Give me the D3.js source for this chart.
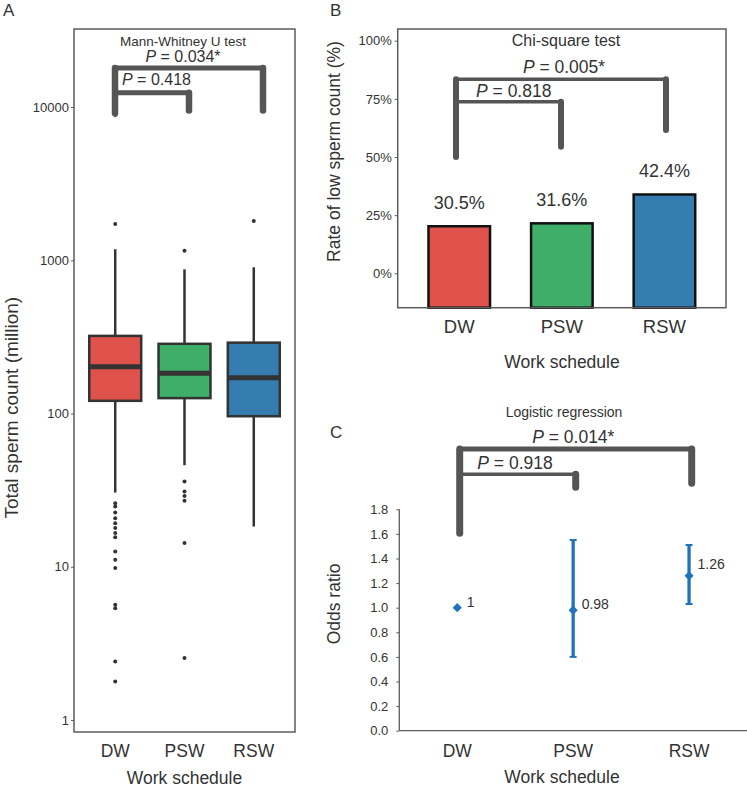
<!DOCTYPE html>
<html>
<head>
<meta charset="utf-8">
<script src="https://cdn.jsdelivr.net/npm/d3@7"></script>
<style>
  body { margin: 0; background: #fff; }
  text { font-family: "Liberation Sans", Arial, sans-serif; }
</style>
</head>
<body>
<div id="chart"></div>
<script>
/*Data*/
var groups = ["DW", "PSW", "RSW"];
var groupColors = ["#DE524B", "#3EAE68", "#357CB0"];

/* A: total sperm count (million), box stats */
var countQ1 = [121, 126, 96];
var countMedian = [202, 183, 171];
var countQ3 = [321, 285, 290];
var countLow = [30.5, 46, 18.3];
var countHigh = [1180, 873, 900];
var outliersDW = [8870, 1727, 26, 24.7, 22.6, 20.7, 19.2, 17.9, 16.6, 15.6, 12.6, 11.1, 9.8, 5.64, 5.37, 2.41, 1.78];
var outliersPSW = [1156, 36, 31, 29, 27, 14.3, 2.54];
var outliersRSW = [1803];
var countTicks = [1, 10, 100, 1000, 10000];

/* B: rate of low sperm count (%) */
var lowRate = [30.5, 31.6, 42.4];
var rateTicks = [0, 25, 50, 75, 100];

/* C: odds ratio */
var oddsRatio = [1, 0.98, 1.26];
var ciLow = [null, 0.60, 1.03];
var ciHigh = [null, 1.55, 1.51];
var oddsTicks = [0, 0.2, 0.4, 0.6, 0.8, 1.0, 1.2, 1.4, 1.6, 1.8];

/* significance brackets (values in each panel's y units) */
var pA = ["0.034*", "0.418"];
var pB = ["0.005*", "0.818"];
var pC = ["0.014*", "0.918"];
var bracketTopA = [18000, 12400], bracketLeftA = [9100, 12400], bracketRightA = [9500, 9500];
var bracketTopB = [83.4, 73.8], bracketLeftB = [50, 73.8], bracketRightB = [61.6, 54.4];
var bracketTopC = [2.29, 2.085], bracketLeftC = [1.605, 2.085], bracketRightC = [2.011, 1.979];

/*SVG*/
var width = 747, height = 787;
var ink = "#333333", frameCol = "#5c5c5c", bracketCol = "#555555";

var svg = d3.select("#chart").append("svg")
	.attr("width", width)
	.attr("height", height);

function pLabel(x, y, value, size, anchor) {
	var t = svg.append("text")
		.attr("x", x).attr("y", y)
		.attr("font-size", size)
		.attr("text-anchor", anchor)
		.attr("fill", ink);
	t.append("tspan").attr("font-style", "italic").text("P");
	t.append("tspan").text(" = " + value);
}

function bracket(x0, x1, yTop, yLeft, yRight, hw, vw) {
	if (yLeft > yTop) {
		svg.append("line")
			.attr("x1", x0).attr("x2", x0).attr("y1", yTop).attr("y2", yLeft)
			.attr("stroke", bracketCol).attr("stroke-width", vw).attr("stroke-linecap", "round");
	}
	svg.append("line")
		.attr("x1", x1).attr("x2", x1).attr("y1", yTop).attr("y2", yRight)
		.attr("stroke", bracketCol).attr("stroke-width", vw).attr("stroke-linecap", "round");
	svg.append("line")
		.attr("x1", x0).attr("x2", x1).attr("y1", yTop).attr("y2", yTop)
		.attr("stroke", bracketCol).attr("stroke-width", hw);
}

function text(x, y, str, size, anchor, rot) {
	var t = svg.append("text")
		.attr("font-size", size)
		.attr("text-anchor", anchor || "start")
		.attr("fill", ink)
		.text(str);
	if (rot) t.attr("transform", "translate(" + x + "," + y + ") rotate(" + rot + ")");
	else t.attr("x", x).attr("y", y);
	return t;
}

function styleAxis(g) {
	g.select(".domain").remove();
	g.selectAll(".tick line").attr("stroke", frameCol);
	g.selectAll(".tick text").attr("fill", ink).attr("font-family", '"Liberation Sans", Arial, sans-serif');
}

/*Panel A - boxplot*/
var aL = 74, aR = 295, aT = 29, aB = 732;
var xA = d3.scaleBand().domain(groups).range([aL, aR]).paddingInner(0.25).paddingOuter(0.22);
var yA = d3.scaleLog().domain([0.835, 32300]).range([aB, aT]);
var brA = d3.scalePoint().domain(groups).range([115, 263]);

var axA = svg.append("g")
	.attr("transform", "translate(" + aL + ",0)")
	.call(d3.axisLeft(yA).tickValues(countTicks).tickFormat(d3.format("d")).tickSize(3).tickPadding(2));
styleAxis(axA);
axA.selectAll(".tick text").attr("font-size", 13);

var outliers = [outliersDW, outliersPSW, outliersRSW];
groups.forEach(function(gname, i) {
	var cx = xA(gname) + xA.bandwidth() / 2;
	svg.append("line")
		.attr("x1", cx).attr("x2", cx)
		.attr("y1", yA(countHigh[i])).attr("y2", yA(countLow[i]))
		.attr("stroke", ink).attr("stroke-width", 2.5);
	svg.append("rect")
		.attr("x", xA(gname)).attr("width", xA.bandwidth())
		.attr("y", yA(countQ3[i])).attr("height", yA(countQ1[i]) - yA(countQ3[i]))
		.attr("fill", groupColors[i]).attr("stroke", ink).attr("stroke-width", 2.5);
	svg.append("line")
		.attr("x1", xA(gname)).attr("x2", xA(gname) + xA.bandwidth())
		.attr("y1", yA(countMedian[i])).attr("y2", yA(countMedian[i]))
		.attr("stroke", ink).attr("stroke-width", 5);
	svg.selectAll(null).data(outliers[i]).enter().append("circle")
		.attr("cx", cx).attr("cy", function(d) { return yA(d); })
		.attr("r", 2).attr("fill", ink);
});

svg.append("rect")
	.attr("x", aL).attr("y", aT).attr("width", aR - aL).attr("height", aB - aT)
	.attr("fill", "none").attr("stroke", frameCol).attr("stroke-width", 1.5);

bracket(brA("DW"), brA("RSW"), yA(bracketTopA[0]), yA(bracketLeftA[0]), yA(bracketRightA[0]), 5, 6.5);
bracket(brA("DW"), brA("PSW"), yA(bracketTopA[1]), yA(bracketLeftA[1]), yA(bracketRightA[1]), 5, 6.5);
text(183, 45.7, "Mann-Whitney U test", 13.5, "middle");
pLabel(183, yA(bracketTopA[0]) - 5.5, pA[0], 16, "middle");
pLabel(brA("DW") + 7, yA(bracketTopA[1]) - 7.5, pA[1], 16, "start");

groups.forEach(function(gname) {
	text(xA(gname) + xA.bandwidth() / 2, 756.7, gname, 17.5, "middle");
});
text(184.5, 784, "Work schedule", 17.5, "middle");
text(17.5, 407.7, "Total sperm count (million)", 19, "middle", -90);
text(3, 16, "A", 17, "start");

/*Panel B - bars*/
var bL = 397.7, bR = 726, bT = 29, bB = 307.7;
var xB = d3.scaleBand().domain(groups).range([bL, bR]).paddingInner(0.4).paddingOuter(0.3);
var yB = d3.scaleLinear().domain([0, 100]).range([273.3, 40.7]);
var barB = d3.scaleLinear().domain([0, 100]).range([bB, yB(100)]);
var brB = d3.scalePoint().domain(groups).range([456, 666]);

var axB = svg.append("g")
	.attr("transform", "translate(" + bL + ",0)")
	.call(d3.axisLeft(yB).tickValues(rateTicks).tickFormat(function(d) { return d + "%"; }).tickSize(3).tickPadding(3));
styleAxis(axB);
axB.selectAll(".tick text").attr("font-size", 13);

svg.selectAll(".barB").data(lowRate).enter().append("rect")
	.attr("class", "barB")
	.attr("x", function(d, i) { return xB(groups[i]); })
	.attr("width", xB.bandwidth())
	.attr("y", function(d) { return barB(d); })
	.attr("height", function(d) { return bB - barB(d); })
	.attr("fill", function(d, i) { return groupColors[i]; })
	.attr("stroke", "#111").attr("stroke-width", 2.5);

svg.selectAll(".barLab").data(lowRate).enter().append("text")
	.attr("class", "barLab")
	.attr("x", function(d, i) { return xB(groups[i]) + xB.bandwidth() / 2; })
	.attr("y", function(d) { return barB(d) - 17; })
	.attr("text-anchor", "middle")
	.attr("font-size", 18)
	.attr("fill", ink)
	.text(function(d) { return d.toFixed(1) + "%"; });

svg.append("rect")
	.attr("x", bL).attr("y", bT).attr("width", bR - bL).attr("height", bB - bT)
	.attr("fill", "none").attr("stroke", frameCol).attr("stroke-width", 1.5);

bracket(brB("DW"), brB("RSW"), yB(bracketTopB[0]), yB(bracketLeftB[0]), yB(bracketRightB[0]), 3.5, 6);
bracket(brB("DW"), brB("PSW"), yB(bracketTopB[1]), yB(bracketLeftB[1]), yB(bracketRightB[1]), 3.5, 6);
text(566, 45.7, "Chi-square test", 16, "middle");
pLabel(564, yB(bracketTopB[0]) - 6.6, pB[0], 17.5, "middle");
pLabel(brB("DW") + 20, yB(bracketTopB[1]) - 5, pB[1], 17.5, "start");

groups.forEach(function(gname) {
	text(xB(gname) + xB.bandwidth() / 2, 333.3, gname, 18.5, "middle");
});
text(562, 368.3, "Work schedule", 17.5, "middle");
text(340, 151.5, "Rate of low sperm count (%)", 17.5, "middle", -90);
text(330, 16, "B", 17, "start");

/*Panel C - odds ratio*/
var cL = 399.3, cR = 747, cB = 730.7;
var xC = d3.scalePoint().domain(groups).range([cL, cR]).padding(0.5);
var yC = d3.scaleLinear().domain([0, 1.8]).range([cB, 509.3]);
var brC = d3.scalePoint().domain(groups).range([459.7, 691.7]);
var orBlue = "#1F72BE";

var axC = svg.append("g")
	.attr("transform", "translate(" + cL + ",0)")
	.call(d3.axisLeft(yC).tickValues(oddsTicks).tickFormat(d3.format(".1f")).tickSize(3).tickPadding(8));
styleAxis(axC);
axC.selectAll(".tick text").attr("font-size", 13);

svg.append("line")
	.attr("x1", cL).attr("x2", cL).attr("y1", yC(1.8)).attr("y2", cB)
	.attr("stroke", frameCol).attr("stroke-width", 1.3);
svg.append("line")
	.attr("x1", cL).attr("x2", cR).attr("y1", cB).attr("y2", cB)
	.attr("stroke", frameCol).attr("stroke-width", 1.3);

groups.forEach(function(gname, i) {
	var cx = xC(gname);
	if (ciLow[i] != null) {
		svg.append("line")
			.attr("x1", cx).attr("x2", cx).attr("y1", yC(ciHigh[i])).attr("y2", yC(ciLow[i]))
			.attr("stroke", orBlue).attr("stroke-width", 3.3);
		[ciLow[i], ciHigh[i]].forEach(function(v) {
			svg.append("line")
				.attr("x1", cx - 3.5).attr("x2", cx + 3.5).attr("y1", yC(v)).attr("y2", yC(v))
				.attr("stroke", orBlue).attr("stroke-width", 2);
		});
	}
	svg.append("path")
		.attr("d", d3.symbol().type(d3.symbolSquare).size(42)())
		.attr("transform", "translate(" + cx + "," + yC(oddsRatio[i]) + ") rotate(45)")
		.attr("fill", orBlue);
	text(cx + (i === 0 ? 9.5 : 8.5), yC(oddsRatio[i]) + (i === 2 ? -7 : -1), d3.format("")(oddsRatio[i]), 14, "start");
	text(cx, 756.7, gname, 17.5, "middle");
});

bracket(brC("DW"), brC("RSW"), yC(bracketTopC[0]), yC(bracketLeftC[0]), yC(bracketRightC[0]), 5, 7);
bracket(brC("DW"), brC("PSW"), yC(bracketTopC[1]), yC(bracketLeftC[1]), yC(bracketRightC[1]), 3.5, 7);
text(564, 416.7, "Logistic regression", 14, "middle");
pLabel(573.3, yC(bracketTopC[0]) - 5.7, pC[0], 17.5, "middle");
pLabel(brC("DW") + 17.6, yC(bracketTopC[1]) - 5, pC[1], 17.5, "start");

text(562, 783, "Work schedule", 17.5, "middle");
text(340, 604, "Odds ratio", 17.5, "middle", -90);
text(330, 438, "C", 17, "start");
</script>
</body>
</html>
